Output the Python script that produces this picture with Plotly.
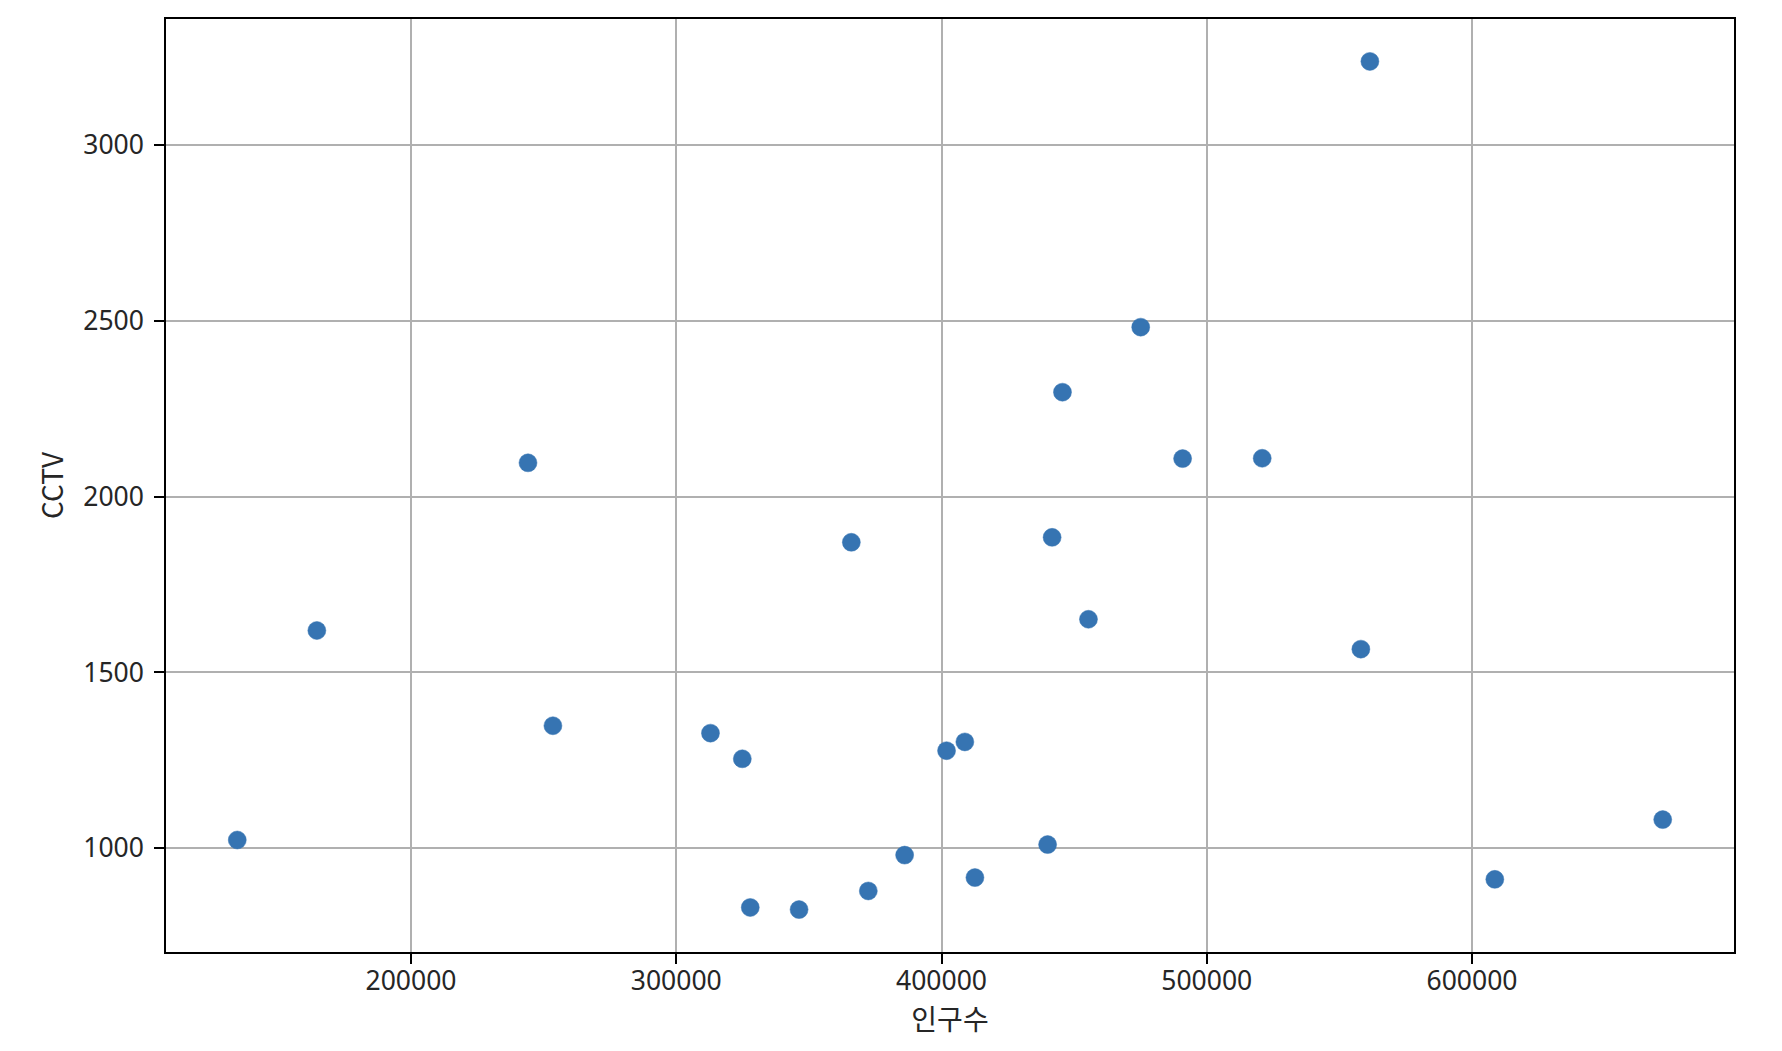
import plotly.graph_objects as go

# 서울시 구별 인구수 vs CCTV 수
districts = ["중구", "종로구", "용산구", "금천구", "성동구", "서대문구", "강북구", "도봉구",
             "동대문구", "광진구", "마포구", "영등포구", "동작구", "중랑구", "강동구", "구로구",
             "서초구", "성북구", "양천구", "은평구", "관악구", "노원구", "강남구", "강서구", "송파구"]
population = [134500, 164500, 244100, 253500, 312900, 324900, 327900, 346300,
              366000, 372400, 386100, 401900, 408800, 412600, 440000, 441700,
              445600, 455400, 475100, 490900, 520900, 558100, 561500, 608600, 671900]
cctv = [1023, 1619, 2096, 1348, 1327, 1254, 831, 825,
        1870, 878, 980, 1277, 1302, 916, 1010, 1884,
        2297, 1651, 2482, 2108, 2109, 1566, 3238, 911, 1081]

x_ticks = [200000, 300000, 400000, 500000, 600000]
y_ticks = [1000, 1500, 2000, 2500, 3000]

def padded(vals, frac=0.05):
    lo, hi = min(vals), max(vals)
    pad = (hi - lo) * frac
    return [lo - pad, hi + pad]

fig = go.Figure()
fig.add_trace(go.Scatter(
    x=population, y=cctv, mode="markers", text=districts,
    marker=dict(size=18, color="#3674b2", line=dict(width=0.5, color="#3674b2")),
    showlegend=False,
))

tick_font = dict(family="Noto Sans, Noto Sans CJK KR", size=26.5, color="#262626")
label_font = dict(family="Noto Sans CJK KR, Noto Sans", size=28, color="#262626")

fig.update_layout(
    width=1782, height=1051,
    margin=dict(l=158, r=56, t=9, b=107),
    paper_bgcolor="white", plot_bgcolor="white",
    xaxis=dict(
        range=padded(population), tickvals=x_ticks, tickformat="d",
        showgrid=True, gridcolor="#b0b0b0", gridwidth=1.5,
        showline=True, linecolor="black", linewidth=1.5, mirror=True,
        ticks="outside", ticklen=10, tickwidth=1.5, tickcolor="black",
        tickfont=tick_font, zeroline=False, ticklabelstandoff=-6,
        title=dict(text="인구수", font=label_font, standoff=10),
    ),
    yaxis=dict(
        range=padded(cctv), tickvals=y_ticks, tickformat="d",
        showgrid=True, gridcolor="#b0b0b0", gridwidth=1.5,
        showline=True, linecolor="black", linewidth=1.5, mirror=True,
        ticks="outside", ticklen=10, tickwidth=1.5, tickcolor="black",
        tickfont=tick_font, zeroline=False, ticklabelstandoff=5,
        title=dict(text="CCTV", font=label_font, standoff=12),
    ),
)

fig.write_html("out.html")
